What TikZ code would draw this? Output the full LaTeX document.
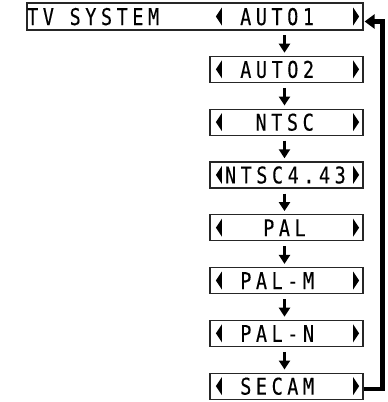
\documentclass[tikz,border=0pt]{standalone}
\usepackage{fontspec}
\newfontfamily\lcdfont[FakeStretch=0.8,LetterSpace=20,FakeBold=0.3]{DejaVu Sans Mono}
\usetikzlibrary{arrows.meta,calc}

\begin{document}
\begin{tikzpicture}[x=1pt,y=-1pt,
  selbox/.style={draw=black!85,line width=1.2pt,minimum width=153pt,minimum height=26pt,inner sep=0pt},
  lcd/.style={font=\lcdfont\fontsize{23pt}{23pt}\selectfont,inner sep=0pt,anchor=base west},
  downarr/.style={line width=3.2pt,-{Triangle[width=11pt,length=9pt]}},
  looparr/.style={line width=4.5pt,-{Triangle[width=14pt,length=10pt]}}]
  \useasboundingbox (0,0) rectangle (388,402);
  % title row
  \node[selbox,minimum width=336pt,minimum height=27pt] (tv) at (195,16.5) {};
  \node[selbox,draw=none] (r1) at (286.5,16.5) {};
  \node[lcd] (title) at (27,25) {TV SYSTEM};
  \node[lcd] (t1) at (240,25) {AUTO1};
  % selection boxes
  \foreach \i/\txt/\c in {2/AUTO2/2,3/NTSC/3,4/NTSC4.43/1,5/PAL/3.5,6/PAL-M/2,7/PAL-N/2,8/SECAM/2}{
    \node[selbox] (r\i) at (286.5,{16.5+52.8*(\i-1)}) {};
    \node[lcd] (t\i) at ({209.5+15.3*\c},{25+52.8*(\i-1)}) {\txt};
  }
  % left and right marks
  \foreach \i in {1,...,8}{
    \fill[shift={(r\i.west)}] (6.5,0) -- (12.5,-9) -- (12.5,9) -- cycle;
    \fill[shift={(r\i.east)}] (-10.5,-9) -- (-4.5,0) -- (-10.5,9) -- cycle;
  }
  % arrows
  \foreach \i [evaluate=\i as \j using int(\i+1)] in {1,...,7}
    \draw[downarr] ($(r\i.south)+(-2,5)$) -- ($(r\j.north)+(-2,-3)$);
  \draw[looparr] ($(r8.east)+(0,3)$) -- ++(19,0) |- ($(tv.east)+(1,5)$);
\end{tikzpicture}
\end{document}
